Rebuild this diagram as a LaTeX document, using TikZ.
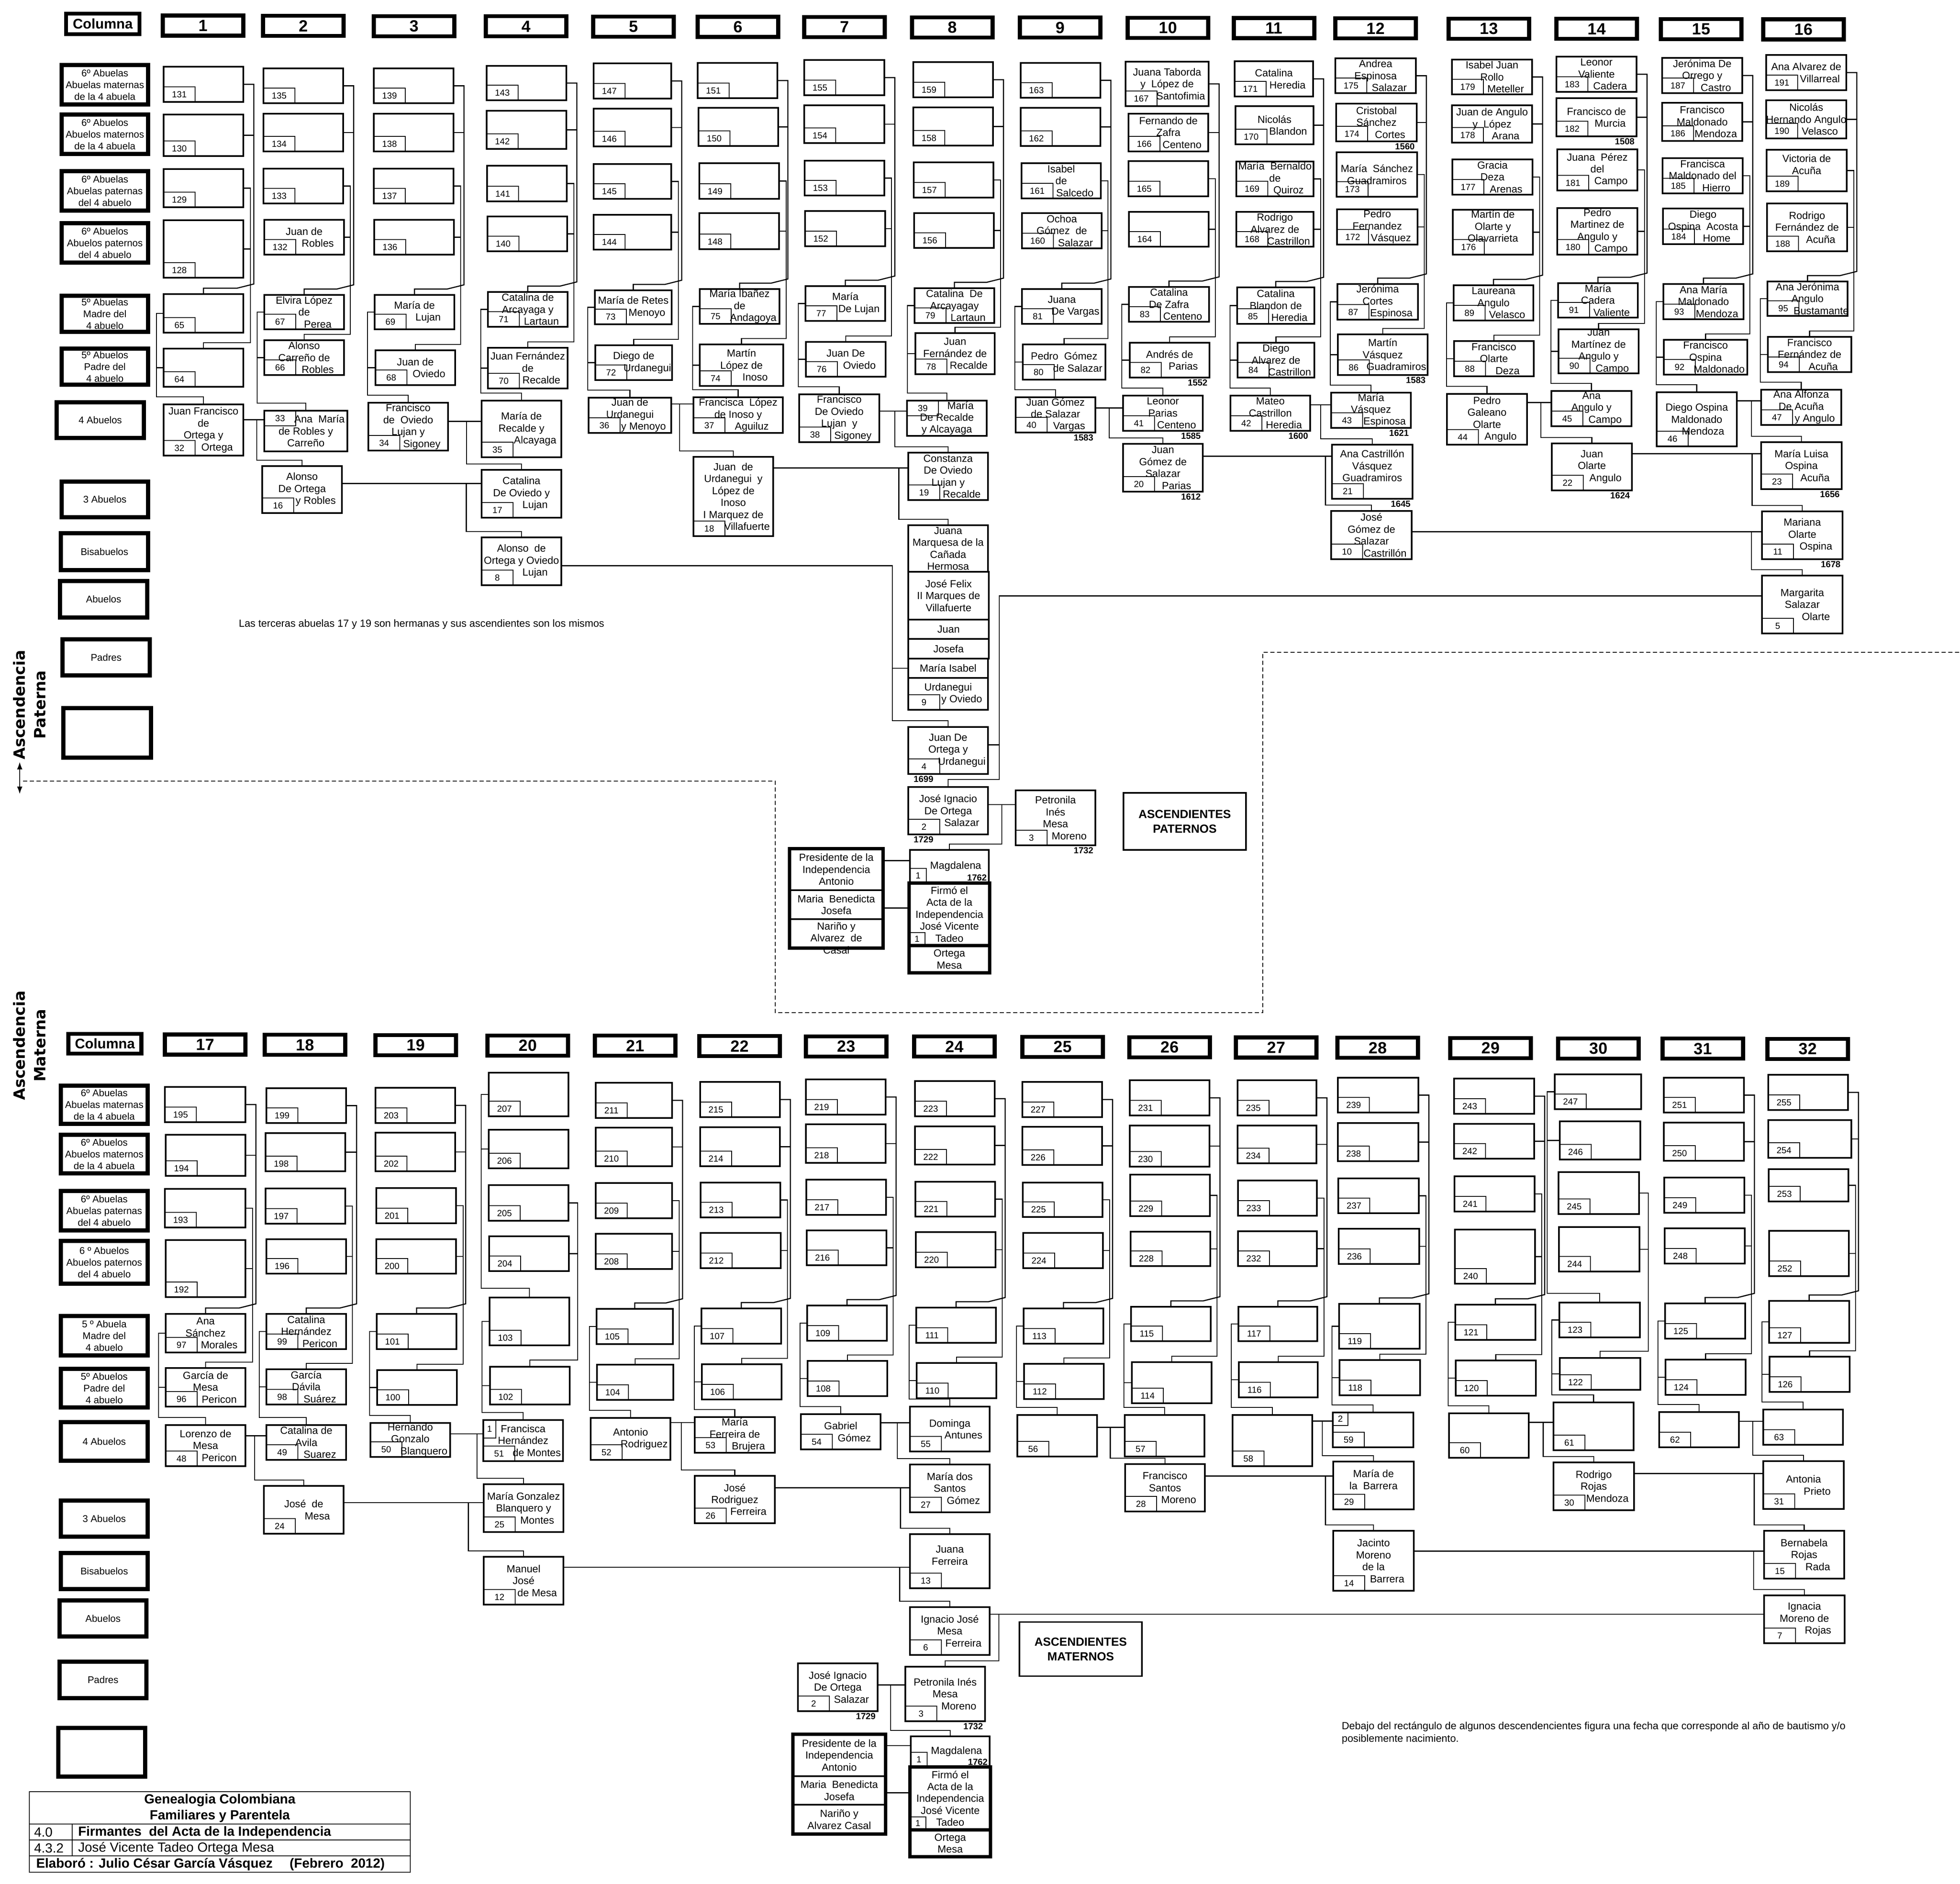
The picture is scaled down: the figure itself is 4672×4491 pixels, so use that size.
\documentclass[tikz,border=0pt]{standalone}
\usepackage{fontspec}
\setmainfont{Liberation Sans}
\newfontfamily\heavyfont{DejaVu Sans}
\usetikzlibrary{arrows.meta,
                calc,
                positioning}

% a box drawn from its corners, with its text laid over it
\newcommand\cell[7][pbox]{%
  \node[#1, minimum width={(#5-#3)*0.1mm}, minimum height={(#6-#4)*0.1mm}] (#2) at ({(#3+#5)/2},{(#4+#6)/2}) {};
  \node[ptext] (#2-t) at (#2) {#7};}
% a person: box plus its number in the lower left corner
\newcommand\pers[6]{%
  \cell{p#1}{#2}{#3}{#4}{#5}{#6}%
  \node[numbox] (p#1-n) at (p#1.south west) {#1};}
\newcommand\rowlbl[6]{%
  \node[lbl, minimum width={(#4-#2)*0.1mm}, minimum height={(#5-#3)*0.1mm}] (#1) at ({(#2+#4)/2},{(#3+#5)/2}) {#6};}
\newcommand\colhdr[3]{%
  \node[hdr, minimum width=19.2mm, minimum height=4.8mm] (h#1) at ({#2+96},{#3+24}) {#1};}
\newcommand\ns{\hspace*{6.5mm}}
\newcommand\yrR[2]{\node[yr, anchor=north east] (y#1) at (p#1.south east) {#2};}
\newcommand\yrL[2]{\node[yr, anchor=north west] (y#1) at ($(p#1.south west)+(8,0)$) {#2};}
% father + mother -> child
\newcommand\couple[5]{%
  \coordinate (ca) at ($(p#1.north east)!#5!(p#1.south east)$);
  \coordinate (cb) at (ca -| p#2.west);
  \draw (ca) -- (cb);
  \draw ($(ca)!#4!(cb)$) |- ($(p#3.north)+(0,-14)$) -- (p#3.north);}
% brackets inside one column: rows 1-4 -> rows 5-6 -> row 7
\newcommand\wirecol[7]{%
  \coordinate (v1) at ($(p#1.east)+(25,0)$);
  \coordinate (v2) at ($(p#3.east)+(17,0)$);
  \coordinate (vl) at ($(p#5.west)+(-17,0)$);
  \draw (p#1.east) -- (v1) -- ($(v1 |- p#5.north)+(0,-24)$) -- ($(v1 |- p#5.north)+(-40,-14)$) -| (p#5.north);
  \draw (p#2.east) -- (p#2.east -| v1);
  \draw (p#3.east) -- (v2) |- ($(p#6.north)+(0,-14)$) -- (p#6.north);
  \draw (p#4.east) -- (p#4.east -| v2);
  \draw (p#5.west) -- (vl) |- ($(p#7.north)+(0,-18)$) -- (p#7.north);
  \draw (p#6.west) -- (p#6.west -| vl);}
\newcommand\wirecolL[7]{%
  \coordinate (v1) at ($(p#1.west)+(-18,0)$);
  \coordinate (v2) at ($(p#3.east)+(22,0)$);
  \coordinate (vl) at ($(p#5.west)+(-18,0)$);
  \draw (p#1.west) -- (v1) |- ($(p#5.north)+(0,-22)$) -- (p#5.north);
  \draw (p#2.west) -- (p#2.west -| v1);
  \draw (p#3.east) -- (v2) |- ($(p#6.north)+(0,-16)$) -- (p#6.north);
  \draw (p#4.east) -- (p#4.east -| v2);
  \draw (p#5.west) -- (vl) |- ($(p#7.north)+(0,-18)$) -- (p#7.north);
  \draw (p#6.west) -- (p#6.west -| vl);}

\begin{document}
\begin{tikzpicture}[x=0.1mm, y=-0.1mm, line width=0.75pt,
    pbox/.style   = {draw, line width=0.9pt, inner sep=0pt, outer sep=0pt},
  fatbox/.style   = {draw, line width=2.4pt, inner sep=0pt, outer sep=0pt},
     lbl/.style   = {draw, line width=2.6pt, inner sep=0pt, align=center,
                     font=\fontsize{6.6}{8}\selectfont},
   ptext/.style   = {inner sep=0pt, align=center, font=\fontsize{7}{8.1}\selectfont},
  numbox/.style   = {draw, line width=0.4pt, anchor=south west, inner sep=0pt, outer sep=0pt,
                     minimum width=7.5mm, minimum height=3.6mm, font=\fontsize{6}{7}\selectfont},
      yr/.style   = {inner sep=1pt, font=\fontsize{6}{7}\selectfont\bfseries},
     hdr/.style   = {draw, line width=2.6pt, inner sep=0pt, font=\fontsize{11}{13}\selectfont\bfseries},
    note/.style   = {inner sep=0pt, font=\fontsize{7}{8.5}\selectfont},
    dashline/.style = {line width=0.6pt, dash pattern=on 1mm off 0.6mm},
     ttl/.style   = {inner sep=0pt, font=\fontsize{9}{11}\selectfont\bfseries},
     trg/.style   = {inner sep=0pt, font=\fontsize{9}{11}\selectfont},
    vert/.style   = {rotate=90, align=center, font=\heavyfont\bfseries\fontsize{10.5}{14}\selectfont}
                    ]
\path[fill=white] (0,0) rectangle (4672,4491);
\useasboundingbox (0,0) rectangle (4672,4491);

% ================= upper half: ascendencia paterna =================
\node[hdr, minimum width=17.5mm, minimum height=4.9mm, font=\fontsize{9.5}{11}\selectfont\bfseries] (colP) at (245,57) {Columna};
\foreach \c/\x in {1/388,2/627,3/891,4/1158,5/1414,6/1663,7/1917,8/2174,9/2431,10/2688,11/2941,12/3183,13/3453,14/3710,15/3959,16/4203}
  \colhdr{\c}{\x}{37+0.6*(\c-1)};
% row labels
\rowlbl{lp1}{147}{155}{353}{249}{6º Abuelas\\Abuelas maternas\\de la 4 abuela}
\rowlbl{lp2}{147}{273}{353}{367}{6º Abuelos\\Abuelos maternos\\de la 4 abuela}
\rowlbl{lp3}{147}{408}{353}{502}{6º Abuelas\\Abuelas paternas\\del 4 abuelo}
\rowlbl{lp4}{147}{532}{353}{626}{6º Abuelos\\Abuelos paternos\\del 4 abuelo}
\rowlbl{lp5}{147}{705}{353}{791}{5º Abuelas\\Madre del\\4 abuelo}
\rowlbl{lp6}{147}{831}{353}{917}{5º Abuelos\\Padre del\\4 abuelo}
\rowlbl{lp7}{135}{959}{343}{1044}{4 Abuelos}
\rowlbl{lp8}{147}{1148}{353}{1233}{3 Abuelos}
\rowlbl{lp9}{145}{1271}{353}{1359}{Bisabuelos}
\rowlbl{lp10}{143}{1385}{351}{1472}{Abuelos}
\rowlbl{lp11}{149}{1524}{357}{1610}{Padres}
\rowlbl{lp12}{151}{1688}{360}{1806}{}

% column 1
\pers{131}{390}{159}{580}{243}{}
\pers{130}{390}{273}{580}{372}{}
\pers{129}{390}{403}{580}{494}{}
\pers{128}{390}{525}{580}{662}{}
\pers{65}{390}{701}{580}{793}{}
\pers{64}{390}{831}{580}{922}{}
\pers{32}{390}{964}{580}{1086}{Juan Francisco\\de\\Ortega y\\\ns Ortega}
% column 2
\pers{135}{628}{163}{818}{246}{}
\pers{134}{628}{271}{818}{361}{}
\pers{133}{628}{402}{818}{485}{}
\pers{132}{630}{524}{820}{607}{Juan de\\\ns Robles}
\pers{67}{630}{703}{820}{785}{Elvira López\\de\\\ns Perea}
\pers{66}{630}{811}{820}{894}{Alonso\\Carreño de\\\ns Robles}
\cell{p33}{630}{979}{828}{1076}{\ns Ana\ \ María\\de Robles y\\Carreño}
\node[numbox, anchor=north west] (p33-n) at (p33.north west) {33};
\pers{16}{625}{1111}{815}{1223}{Alonso\\De Ortega\\\ns y Robles}
% column 3
\pers{139}{891}{163}{1081}{246}{}
\pers{138}{891}{271}{1081}{361}{}
\pers{137}{891}{402}{1081}{485}{}
\pers{136}{892}{524}{1082}{607}{}
\pers{69}{893}{703}{1083}{785}{María de\\\ns Lujan}
\pers{68}{895}{835}{1085}{918}{Juan de\\\ns Oviedo}
\pers{34}{878}{960}{1068}{1074}{Francisco\\de\ \ Oviedo\\Lujan y\\\ns Sigoney}
% column 4
\pers{143}{1160}{157}{1350}{239}{}
\pers{142}{1160}{264}{1350}{355}{}
\pers{141}{1161}{395}{1351}{480}{}
\pers{140}{1162}{516}{1352}{599}{}
\pers{71}{1163}{696}{1353}{779}{Catalina de\\Arcayaga y\\\ns Lartaun}
\pers{70}{1163}{829}{1353}{926}{Juan Fernández\\de\\\ns Recalde}
\pers{35}{1148}{955}{1338}{1090}{María de\\Recalde y\\\ns Alcayaga}
\pers{17}{1148}{1120}{1338}{1234}{Catalina\\De Oviedo y\\\ns Lujan}
\pers{8}{1148}{1281}{1338}{1395}{Alonso\ \ de\\Ortega y Oviedo\\\ns Lujan}
% column 5
\pers{147}{1415}{151}{1600}{235}{}
\pers{146}{1415}{259}{1600}{349}{}
\pers{145}{1415}{391}{1600}{474}{}
\pers{144}{1415}{512}{1600}{595}{}
\pers{73}{1418}{692}{1601}{773}{María de Retes\\\ns Menoyo}
\pers{72}{1419}{823}{1602}{906}{Diego de\\\ns Urdanegui}
\pers{36}{1403}{948}{1600}{1032}{Juan de\\Urdanegui\\\ns y Menoyo}
% column 6
\pers{151}{1663}{150}{1853}{234}{}
\pers{150}{1665}{257}{1855}{348}{}
\pers{149}{1667}{389}{1857}{474}{}
\pers{148}{1667}{508}{1857}{594}{}
\pers{75}{1668}{689}{1858}{772}{María Ibañez\\de\\\ns Andagoya}
\pers{74}{1668}{821}{1867}{920}{Martín\\López de\\\ns Inoso}
\pers{37}{1653}{947}{1866}{1032}{Francisca\ \ López\\de Inoso y\\\ns Aguiluz}
\pers{18}{1653}{1089}{1843}{1278}{Juan\ \ de\\Urdanegui\ \ y\\López de\\Inoso\\I Marquez de\\\ns Villafuerte}
% column 7
\pers{155}{1917}{143}{2108}{227}{}
\pers{154}{1917}{251}{2108}{341}{}
\pers{153}{1918}{383}{2108}{466}{}
\pers{152}{1919}{503}{2110}{587}{}
\pers{77}{1920}{682}{2110}{765}{María\\\ns De Lujan}
\pers{76}{1921}{815}{2111}{898}{Juan De\\\ns Oviedo}
\pers{38}{1905}{940}{2096}{1054}{Francisco\\De Oviedo\\Lujan\ \ y\\\ns Sigoney}
% column 8
\pers{159}{2177}{148}{2367}{232}{}
\pers{158}{2177}{256}{2367}{347}{}
\pers{157}{2178}{387}{2368}{471}{}
\pers{156}{2179}{508}{2369}{591}{}
\pers{79}{2180}{687}{2370}{770}{Catalina\ \ De\\Arcayagay\\\ns Lartaun}
\pers{78}{2182}{794}{2371}{892}{Juan\\Fernández de\\\ns Recalde}
\cell{p39}{2162}{955}{2352}{1039}{\ns María\\De Recalde\\y Alcayaga}
\node[numbox, anchor=north west] (p39-n) at (p39.north west) {39};
\pers{19}{2165}{1079}{2355}{1192}{Constanza\\De Oviedo\\Lujan y\\\ns Recalde}
\cell{p9a}{2165}{1252}{2355}{1363}{Juana\\Marquesa de la\\Cañada\\Hermosa}
\cell{p9b}{2165}{1363}{2357}{1477}{José Felix\\II Marques de\\Villafuerte}
\cell{p9c}{2165}{1477}{2357}{1523}{Juan}
\cell{p9d}{2165}{1523}{2357}{1570}{Josefa}
\cell{p9e}{2165}{1570}{2355}{1616}{María Isabel}
\pers{9}{2165}{1616}{2355}{1692}{Urdanegui\\\ns y Oviedo}
\pers{4}{2165}{1733}{2355}{1845}{Juan De\\Ortega y\\\ns Urdanegui}
\pers{2}{2165}{1876}{2355}{1989}{José Ignacio\\De Ortega\\\ns Salazar}
\pers{3}{2421}{1884}{2611}{2015}{Petronila\\Inés\\Mesa\\\ns Moreno}
\cell{p1}{2169}{2026}{2357}{2105}{\hspace*{3mm}Magdalena}
\node[numbox, minimum width=3.9mm, minimum height=3.5mm] (p1-n) at (p1.south west) {1};
\node[yr, anchor=south east] (y1) at (p1.south east) {1762};
\cell[fatbox]{firm1}{2167}{2105}{2359}{2254}{Firmó el\\Acta de la\\Independencia\\José Vicente\\Tadeo}
\node[numbox, minimum width=3.8mm, minimum height=3.1mm] (firm1-n) at (firm1.south west) {1};
\cell[fatbox]{firm2}{2167}{2254}{2359}{2319}{Ortega\\Mesa}
\cell{pres1}{1882}{2023}{2105}{2122}{Presidente de la\\Independencia\\Antonio}
\cell{pres2}{1882}{2122}{2105}{2191}{Maria\ \ Benedicta\\Josefa}
\cell{pres3}{1882}{2191}{2105}{2260}{}
\node[ptext, anchor=north] (pres3-x) at ($(pres3.north)+(0,6)$) {Nariño y\\Alvarez\ \ de\\Casal};
\cell[fatbox]{pres}{1882}{2023}{2105}{2260}{}
\node[pbox, minimum width=29.2mm, minimum height=13.6mm, align=center,
      font=\fontsize{8}{10}\selectfont\bfseries] (ascpat) at (2824,1958) {ASCENDIENTES\\PATERNOS};
% column 9
\pers{163}{2433}{150}{2623}{233}{}
\pers{162}{2433}{257}{2623}{348}{}
\pers{161}{2435}{389}{2624}{473}{Isabel\\de\\\ns Salcedo}
\pers{160}{2436}{508}{2626}{592}{Ochoa\\Gómez\ \ de\\\ns Salazar}
\pers{81}{2436}{689}{2626}{772}{Juana\\\ns De Vargas}
\pers{80}{2438}{821}{2635}{905}{Pedro\ \ Gómez\\\ns de Salazar}
\pers{40}{2421}{947}{2611}{1031}{Juan Gómez\\de Salazar\\\ns Vargas}
% column 10
\pers{167}{2683}{147}{2881}{253}{Juana Taborda\\y\ \ López de\\\ns Santofimia}
\pers{166}{2690}{271}{2880}{361}{Fernando de\\Zafra\\\ns Centeno}
\pers{165}{2690}{384}{2880}{468}{}
\pers{164}{2691}{505}{2881}{588}{}
\pers{83}{2691}{684}{2882}{767}{Catalina\\De Zafra\\\ns Centeno}
\pers{82}{2693}{817}{2883}{900}{Andrés de\\\ns Parias}
\pers{41}{2677}{943}{2867}{1027}{Leonor\\Parias\\\ns Centeno}
\pers{20}{2677}{1058}{2867}{1172}{Juan\\Gómez de\\Salazar\\\ns Parias}
% column 11
\pers{171}{2943}{146}{3130}{230}{Catalina\\\ns Heredia}
\pers{170}{2945}{253}{3131}{344}{Nicolás\\\ns Blandon}
\pers{169}{2947}{385}{3131}{468}{María\ \ Bernaldo\\de\\\ns Quiroz}
\pers{168}{2947}{505}{3131}{588}{Rodrigo\\Alvarez de\\\ns Castrillon}
\pers{85}{2949}{685}{3133}{772}{Catalina\\Blandon de\\\ns Heredia}
\pers{84}{2950}{817}{3133}{900}{Diego\\Alvarez de\\\ns Castrillon}
\pers{42}{2933}{943}{3123}{1027}{Mateo\\Castrillon\\\ns Heredia}
% column 12
\pers{175}{3183}{139}{3375}{222}{Andrea\\Espinosa\\\ns Salazar}
\pers{174}{3185}{247}{3377}{337}{Cristobal\\Sánchez\\\ns Cortes}
\pers{173}{3186}{363}{3378}{469}{María\ \ Sánchez\\Guadramiros}
\pers{172}{3187}{499}{3379}{583}{Pedro\\Fernandez\\\ns Vásquez}
\pers{87}{3188}{677}{3380}{762}{Jerónima\\Cortes\\\ns Espinosa}
\pers{86}{3189}{797}{3403}{894}{Martín\\Vásquez\\\ns Guadramiros}
\pers{43}{3173}{936}{3363}{1020}{María\\Vásquez\\\ns Espinosa}
\pers{21}{3175}{1060}{3367}{1189}{Ana Castrillón\\Vásquez\\Guadramiros\\~}
\pers{10}{3173}{1218}{3365}{1333}{José\\Gómez de\\Salazar\\\ns Castrillón}
% column 13
\pers{179}{3461}{142}{3652}{225}{Isabel Juan\\Rollo\\\ns Meteller}
\pers{178}{3461}{251}{3652}{340}{Juan de Angulo\\y\ \ López\\\ns Arana}
\pers{177}{3462}{380}{3653}{464}{Gracia\\Deza\\\ns Arenas}
\pers{176}{3463}{500}{3654}{607}{Martín de\\Olarte y\\Olavarrieta\\~}
\pers{89}{3465}{680}{3655}{764}{Laureana\\Angulo\\\ns Velasco}
\pers{88}{3466}{813}{3656}{897}{Francisco\\Olarte\\\ns Deza}
\pers{44}{3449}{939}{3640}{1060}{Pedro\\Galeano\\Olarte\\\ns Angulo}
% column 14
\pers{183}{3710}{135}{3901}{219}{Leonor\\Valiente\\\ns Cadera}
\pers{182}{3710}{234}{3901}{325}{Francisco de\\\ns Murcia}
\pers{181}{3712}{356}{3903}{454}{Juana\ \ Pérez\\del\\\ns Campo}
\pers{180}{3712}{496}{3903}{607}{Pedro\\Martinez de\\Angulo y\\\ns Campo}
\pers{91}{3714}{675}{3904}{757}{María\\Cadera\\\ns Valiente}
\pers{90}{3715}{785}{3906}{890}{Juan\\Martínez de\\Angulo y\\\ns Campo}
\pers{45}{3698}{932}{3889}{1016}{Ana\\Angulo y\\\ns Campo}
\pers{22}{3699}{1057}{3890}{1169}{Juan\\Olarte\\\ns Angulo}
% column 15
\pers{187}{3962}{138}{4153}{222}{Jerónima De\\Orrego y\\\ns Castro}
\pers{186}{3962}{245}{4153}{336}{Francisco\\Maldonado\\\ns Mendoza}
\pers{185}{3963}{377}{4154}{461}{Francisca\\Maldonado del\\\ns Hierro}
\pers{184}{3964}{497}{4155}{582}{Diego\\Ospina\ \ Acosta\\\ns Home}
\pers{93}{3965}{677}{4156}{761}{Ana María\\Maldonado\\\ns Mendoza}
\pers{92}{3966}{810}{4165}{893}{Francisco\\Ospina\\\ns Maldonado}
\pers{46}{3949}{935}{4140}{1064}{Diego Ospina\\Maldonado\\\hspace*{3mm}Mendoza}
% column 16
\pers{191}{4210}{131}{4401}{215}{Ana Alvarez de\\\ns Villarreal}
\pers{190}{4210}{239}{4401}{330}{Nicolás\\Hernando Angulo\\\ns Velasco}
\pers{189}{4211}{357}{4402}{456}{Victoria de\\Acuña\\~}
\pers{188}{4212}{485}{4403}{599}{Rodrigo\\Fernández de\\\ns Acuña}
\pers{95}{4213}{671}{4404}{753}{Ana Jerónima\\Angulo\\\ns Bustamante}
\pers{94}{4214}{803}{4413}{887}{Francisco\\Fernández de\\\ns Acuña}
\pers{47}{4198}{929}{4389}{1013}{Ana Alfonza\\De Acuña\\\ns y Angulo}
\pers{23}{4198}{1054}{4390}{1166}{María Luisa\\Ospina\\\ns Acuña}
\pers{11}{4200}{1219}{4392}{1333}{Mariana\\Olarte\\\ns Ospina}
\pers{5}{4200}{1372}{4392}{1510}{Margarita\\Salazar\\\ns Olarte}
% years
\yrR{40}{1583} \yrR{82}{1552} \yrR{41}{1585} \yrR{20}{1612} \yrR{42}{1600}
\yrR{174}{1560} \yrR{86}{1583} \yrR{43}{1621} \yrR{21}{1645} \yrR{182}{1508}
\yrR{22}{1624} \yrR{23}{1656} \yrR{11}{1678} \yrR{3}{1732}
\yrL{4}{1699} \yrL{2}{1729}

% couples, upper half
\couple{32}{33}{16}{0.64}{0.3}
\couple{34}{35}{17}{0.55}{0.39}
\couple{36}{37}{18}{0.38}{0.18}
\couple{38}{39}{19}{0.56}{0.35}
\couple{40}{41}{20}{0.5}{0.3}
\couple{42}{43}{21}{0.5}{0.26}
\couple{44}{45}{22}{0.57}{0.17}
\couple{46}{47}{23}{0.6}{0.16}
\couple{16}{17}{8}{0.89}{0.37}
\couple{18}{19}{9a}{0.93}{0.14}
\couple{20}{21}{10}{0.95}{0.26}
\couple{22}{23}{11}{0.93}{0.22}
\couple{10}{11}{5}{0.97}{0.43}
\couple{2}{3}{1}{0.5}{0.37}
% 8 + 9 -> 4
\coordinate (j8) at ($(p9e.west)+(-38,0)$);
\draw ($(p8.north east)!0.59!(p8.south east)$) -| (j8) |- ($(p4.north)+(0,-15)$) -- (p4.north);
\draw (p9e.west) -- (j8);
% 4 + 5 -> 2
\coordinate (c4) at ($(p4.north east)!0.38!(p4.south east)$);
\coordinate (j4) at ($(c4)+(27,0)$);
\coordinate (c5) at ($(p5.north west)!0.35!(p5.south west)$);
\draw (c4) -- (j4) |- (c5);
\draw (j4) |- ($(p2.north)+(0,-18)$) -- (p2.north);
% parents of 1
\coordinate (m1) at ($(p1.north west)!0.32!(p1.south west)$);
\draw (m1) -- (m1 -| pres.east);
\coordinate (m2) at ($(firm1.north west)!0.4!(firm1.south west)$);
\draw (m2) -- (m2 -| pres.east);

\node[note, anchor=west] (nota1) at (568,1488) {Las terceras abuelas 17 y 19 son hermanas y sus ascendientes son los mismos};
\node[vert] (ascP) at (70,1680) {Ascendencia\\Paterna};
\coordinate (ar1) at (47,1816);
\coordinate (ar2) at (47,1893);
\draw[{Latex[length=1.8mm,width=1.3mm]}-{Latex[length=1.8mm,width=1.3mm]}] (ar1) -- (ar2);
\draw[dashline] (55,1862) -- (1848,1862) -- (1848,2414) -- (3010,2414) -- (3010,1555) -- (4672,1555);

% ================= lower half: ascendencia materna =================
\node[vert] (ascM) at (70,2492) {Ascendencia\\Materna};
\node[hdr, minimum width=17.4mm, minimum height=4.7mm, font=\fontsize{9.5}{11}\selectfont\bfseries] (colM) at (250,2488) {Columna};
\foreach \c/\x in {17/393,18/631,19/895,20/1162,21/1418,22/1667,23/1921,24/2179,25/2437,26/2692,27/2946,28/3188,29/3457,30/3714,31/3963,32/4213}
  \colhdr{\c}{\x}{2466+0.7*(\c-17)};
\rowlbl{lm1}{145}{2588}{352}{2679}{6º Abuelas\\Abuelas maternas\\de la 4 abuela}
\rowlbl{lm2}{145}{2705}{352}{2797}{6º Abuelos\\Abuelos maternos\\de la 4 abuela}
\rowlbl{lm3}{145}{2839}{352}{2933}{6º Abuelas\\Abuelas paternas\\del 4 abuelo}
\rowlbl{lm4}{145}{2958}{352}{3060}{6 º Abuelos\\Abuelos paternos\\del 4 abuelo}
\rowlbl{lm5}{145}{3137}{352}{3231}{5 º Abuela\\Madre del\\4 abuelo}
\rowlbl{lm6}{145}{3263}{352}{3355}{5º Abuelos\\Padre del\\4 abuelo}
\rowlbl{lm7}{145}{3390}{352}{3482}{4 Abuelos}
\rowlbl{lm8}{145}{3577}{352}{3663}{3 Abuelos}
\rowlbl{lm9}{145}{3702}{352}{3788}{Bisabuelos}
\rowlbl{lm10}{142}{3815}{349}{3901}{Abuelos}
\rowlbl{lm11}{142}{3961}{349}{4048}{Padres}
\rowlbl{lm12}{139}{4119}{346}{4235}{}

% column 17
\pers{195}{393}{2591}{585}{2675}{}
\pers{194}{395}{2705}{585}{2803}{}
\pers{193}{393}{2834}{585}{2926}{}
\pers{192}{395}{2956}{585}{3092}{}
\pers{97}{395}{3132}{585}{3224}{Ana\\Sánchez\\\ns Morales}
\pers{96}{395}{3261}{585}{3353}{García de\\Mesa\\\ns Pericon}
\pers{48}{395}{3397}{585}{3495}{Lorenzo de\\Mesa\\\ns Pericon}
% column 18
\pers{199}{635}{2594}{825}{2677}{}
\pers{198}{633}{2701}{823}{2792}{}
\pers{197}{633}{2833}{823}{2917}{}
\pers{196}{635}{2954}{825}{3036}{}
\pers{99}{635}{3132}{825}{3216}{Catalina\\Hernández\\\ns Pericon}
\pers{98}{635}{3264}{825}{3348}{García\\Dávila\\\ns Suárez}
\pers{49}{635}{3397}{825}{3480}{Catalina de\\Avila\\\ns Suarez}
\pers{24}{629}{3542}{819}{3656}{José\ \ de\\\ns Mesa}
% column 19
\pers{203}{895}{2593}{1085}{2677}{}
\pers{202}{895}{2700}{1085}{2792}{}
\pers{201}{897}{2832}{1087}{2916}{}
\pers{200}{897}{2954}{1087}{3036}{}
\pers{101}{898}{3132}{1088}{3216}{}
\pers{100}{899}{3266}{1089}{3349}{}
\pers{50}{883}{3392}{1073}{3473}{Hernando\\Gonzalo\\\ns Blanquero}
% column 20
\pers{207}{1165}{2557}{1355}{2661}{}
\pers{206}{1165}{2693}{1355}{2785}{}
\pers{205}{1165}{2825}{1355}{2910}{}
\pers{204}{1166}{2947}{1356}{3030}{}
\pers{103}{1167}{3093}{1357}{3207}{}
\pers{102}{1168}{3258}{1358}{3348}{}
\pers{51}{1152}{3385}{1342}{3483}{Francisca\\Hernández\\\ns de Montes}
\node[numbox, anchor=north west, minimum width=3mm, minimum height=4.3mm] (p51-m) at (p51.north west) {1};
\pers{25}{1153}{3538}{1343}{3652}{María Gonzalez\\Blanquero y\\\ns Montes}
\pers{12}{1153}{3711}{1343}{3825}{Manuel\\José\\\ns de Mesa}
% column 21
\pers{211}{1420}{2581}{1602}{2665}{}
\pers{210}{1420}{2688}{1602}{2780}{}
\pers{209}{1420}{2820}{1602}{2904}{}
\pers{208}{1420}{2941}{1602}{3025}{}
\pers{105}{1422}{3120}{1604}{3204}{}
\pers{104}{1423}{3253}{1605}{3337}{}
\pers{52}{1408}{3380}{1598}{3480}{Antonio\\\ns Rodriguez}
% column 22
\pers{215}{1669}{2579}{1859}{2663}{}
\pers{214}{1669}{2687}{1859}{2780}{}
\pers{213}{1670}{2819}{1860}{2902}{}
\pers{212}{1670}{2939}{1861}{3023}{}
\pers{107}{1672}{3119}{1862}{3203}{}
\pers{106}{1673}{3252}{1863}{3336}{}
\pers{53}{1656}{3378}{1847}{3463}{María\\Ferreira de\\\ns Brujera}
\pers{26}{1656}{3518}{1847}{3631}{José\\Rodriguez\\\ns Ferreira}
% column 23
\pers{219}{1921}{2573}{2111}{2657}{}
\pers{218}{1921}{2680}{2111}{2772}{}
\pers{217}{1922}{2812}{2112}{2896}{}
\pers{216}{1923}{2933}{2113}{3016}{}
\pers{109}{1924}{3112}{2114}{3196}{}
\pers{108}{1925}{3244}{2115}{3328}{}
\pers{54}{1909}{3371}{2099}{3455}{Gabriel\\\ns Gómez}
% column 24
\pers{223}{2181}{2577}{2371}{2661}{}
\pers{222}{2181}{2685}{2371}{2776}{}
\pers{221}{2182}{2817}{2372}{2900}{}
\pers{220}{2183}{2937}{2373}{3021}{}
\pers{111}{2184}{3117}{2374}{3201}{}
\pers{110}{2185}{3249}{2375}{3333}{}
\pers{55}{2169}{3353}{2359}{3460}{Dominga\\\ns Antunes}
\pers{27}{2169}{3491}{2359}{3605}{María dos\\Santos\\\ns Gómez}
\pers{13}{2169}{3657}{2359}{3786}{Juana\\Ferreira\\~}
\pers{6}{2169}{3831}{2359}{3945}{Ignacio José\\Mesa\\\ns Ferreira}
\cell{p3m}{2158}{3973}{2348}{4103}{Petronila Inés\\Mesa\\\ns Moreno}
\node[numbox] (p3m-n) at (p3m.south west) {3};
\cell{p2m}{1902}{3965}{2092}{4079}{José Ignacio\\De Ortega\\\ns Salazar}
\node[numbox] (p2m-n) at (p2m.south west) {2};
\cell{p1m}{2171}{4139}{2359}{4212}{\hspace*{3mm}Magdalena}
\node[numbox, minimum width=3.9mm, minimum height=3.5mm] (p1m-n) at (p1m.south west) {1};
\node[yr, anchor=south east] (y1m) at (p1m.south east) {1762};
\cell[fatbox]{firm1m}{2169}{4212}{2361}{4362}{Firmó el\\Acta de la\\Independencia\\José Vicente\\Tadeo}
\node[numbox, minimum width=3.8mm, minimum height=3.1mm] (firm1m-n) at (firm1m.south west) {1};
\cell[fatbox]{firm2m}{2169}{4362}{2361}{4426}{Ortega\\Mesa}
\cell{pres1m}{1890}{4134}{2111}{4234}{Presidente de la\\Independencia\\Antonio}
\cell{pres2m}{1890}{4234}{2111}{4302}{Maria\ \ Benedicta\\Josefa}
\cell{pres3m}{1890}{4302}{2111}{4372}{Nariño y\\Alvarez Casal}
\cell[fatbox]{presm}{1890}{4134}{2111}{4372}{}
\node[pbox, minimum width=29.2mm, minimum height=12.9mm, align=center,
      font=\fontsize{8}{10}\selectfont\bfseries] (ascmat) at (2576,3931) {ASCENDIENTES\\MATERNOS};
% column 25
\pers{227}{2437}{2579}{2627}{2663}{}
\pers{226}{2437}{2686}{2627}{2777}{}
\pers{225}{2438}{2819}{2628}{2901}{}
\pers{224}{2439}{2939}{2629}{3023}{}
\pers{113}{2440}{3119}{2630}{3203}{}
\pers{112}{2441}{3251}{2631}{3335}{}
\pers{56}{2425}{3373}{2615}{3472}{}
% column 26
\pers{231}{2693}{2575}{2883}{2659}{}
\pers{230}{2693}{2683}{2883}{2781}{}
\pers{229}{2694}{2800}{2884}{2899}{}
\pers{228}{2695}{2936}{2885}{3018}{}
\pers{115}{2696}{3115}{2886}{3197}{}
\pers{114}{2698}{3247}{2888}{3345}{}
\pers{57}{2681}{3373}{2871}{3472}{}
\pers{28}{2682}{3490}{2872}{3603}{Francisco\\Santos\\\ns Moreno}
% column 27
\pers{235}{2950}{2575}{3138}{2659}{}
\pers{234}{2950}{2683}{3138}{2773}{}
\pers{233}{2951}{2814}{3139}{2898}{}
\pers{232}{2951}{2935}{3139}{3018}{}
\pers{117}{2952}{3115}{3140}{3197}{}
\pers{116}{2953}{3247}{3141}{3331}{}
\pers{58}{2938}{3373}{3128}{3495}{}
% column 28
\pers{239}{3189}{2569}{3381}{2652}{}
\pers{238}{3189}{2677}{3381}{2768}{}
\pers{237}{3190}{2809}{3382}{2892}{}
\pers{236}{3191}{2929}{3383}{3013}{}
\pers{119}{3192}{3108}{3384}{3215}{}
\pers{118}{3193}{3242}{3385}{3326}{}
\pers{59}{3177}{3367}{3369}{3450}{}
\node[numbox, anchor=north west, minimum width=3.6mm, minimum height=3.1mm] (p59-m) at (p59.north west) {2};
\pers{29}{3178}{3484}{3370}{3598}{María de\\la\ \ Barrera\\~}
\pers{14}{3178}{3649}{3370}{3792}{Jacinto\\Moreno\\de la\\\ns Barrera}
% column 29
\pers{243}{3466}{2571}{3657}{2655}{}
\pers{242}{3466}{2679}{3657}{2762}{}
\pers{241}{3467}{2804}{3658}{2888}{}
\pers{240}{3468}{2931}{3659}{3060}{}
\pers{121}{3469}{3110}{3660}{3194}{}
\pers{120}{3470}{3243}{3661}{3327}{}
\pers{60}{3454}{3369}{3644}{3475}{}
% column 30
\pers{247}{3706}{2561}{3912}{2644}{}
\pers{246}{3718}{2673}{3910}{2764}{}
\pers{245}{3715}{2794}{3907}{2894}{}
\pers{244}{3716}{2925}{3908}{3031}{}
\pers{123}{3717}{3105}{3909}{3188}{}
\pers{122}{3718}{3237}{3910}{3313}{}
\pers{61}{3703}{3343}{3894}{3457}{}
\pers{30}{3703}{3486}{3895}{3600}{Rodrigo\\Rojas\\\ns Mendoza}
% column 31
\pers{251}{3966}{2569}{4157}{2652}{}
\pers{250}{3966}{2676}{4157}{2767}{}
\pers{249}{3967}{2807}{4158}{2891}{}
\pers{248}{3968}{2928}{4159}{3012}{}
\pers{125}{3969}{3107}{4160}{3191}{}
\pers{124}{3970}{3241}{4161}{3325}{}
\pers{62}{3955}{3366}{4145}{3450}{}
% column 32
\pers{255}{4215}{2562}{4405}{2646}{}
\pers{254}{4215}{2670}{4413}{2760}{}
\pers{253}{4216}{2787}{4406}{2864}{}
\pers{252}{4217}{2934}{4407}{3042}{}
\pers{127}{4217}{3101}{4408}{3201}{}
\pers{126}{4218}{3234}{4409}{3318}{}
\pers{63}{4203}{3360}{4393}{3444}{}
\pers{31}{4203}{3483}{4395}{3597}{Antonia\\\ns Prieto}
\pers{15}{4205}{3649}{4396}{3763}{Bernabela\\Rojas\\\ns Rada}
\pers{7}{4205}{3803}{4397}{3917}{Ignacia\\Moreno de\\\ns Rojas}
\yrR{2m}{1729} \yrR{3m}{1732}

% couples, lower half
\couple{48}{49}{24}{0.44}{0.26}
\couple{50}{51}{25}{0.81}{0.32}
\couple{52}{53}{26}{0.45}{0.11}
\couple{54}{55}{27}{0.57}{0.24}
\couple{56}{57}{28}{0.48}{0.3}
\couple{58}{59}{29}{0.49}{0.12}
\couple{60}{61}{30}{0.58}{0.2}
\couple{62}{63}{31}{0.57}{0.26}
\couple{24}{25}{12}{0.89}{0.35}
\couple{26}{27}{13}{0.93}{0.25}
\couple{28}{29}{14}{0.94}{0.25}
\couple{30}{31}{15}{0.93}{0.23}
\couple{12}{13}{6}{0.97}{0.22}
\couple{14}{15}{7}{0.97}{0.34}
\couple{6}{7}{3m}{0.012}{0.15}
\couple{2m}{3m}{1m}{0.47}{0.45}
\coordinate (m1m) at ($(p1m.north west)!0.3!(p1m.south west)$);
\draw (m1m) -- (m1m -| presm.east);
\coordinate (m2m) at ($(firm1m.north west)!0.41!(firm1m.south west)$);
\draw (m2m) -- (m2m -| presm.east);

% brackets inside every column
\foreach \c in {1,...,32}{%
  \ifnum\c=20 \else\ifnum\c=30 \else
    \pgfmathtruncatemacro\nA{127+4*\c}%
    \pgfmathtruncatemacro\nB{126+4*\c}%
    \pgfmathtruncatemacro\nC{125+4*\c}%
    \pgfmathtruncatemacro\nD{124+4*\c}%
    \pgfmathtruncatemacro\nE{63+2*\c}%
    \pgfmathtruncatemacro\nF{62+2*\c}%
    \pgfmathtruncatemacro\nG{31+\c}%
    \wirecol{\nA}{\nB}{\nC}{\nD}{\nE}{\nF}{\nG}%
  \fi\fi}
\wirecolL{207}{206}{205}{204}{103}{102}{51}
\wirecolL{247}{246}{245}{244}{123}{122}{61}

\node[note, anchor=north west, align=left] (nota2) at (3197,4103) {Debajo del rectángulo de algunos descendencientes figura una fecha que corresponde al año de bautismo y/o\\posiblemente nacimiento.};

% title block
\draw[line width=0.8pt] (70,4271) rectangle (978,4463);
\draw[line width=0.8pt] (70,4348) -- (978,4348) (70,4386) -- (978,4386) (70,4424) -- (978,4424) (172,4348) -- (172,4424);
\node[ttl] (tit1) at (524,4291) {Genealogia Colombiana};
\node[ttl] (tit2) at (524,4329) {Familiares y Parentela};
\node[trg, anchor=west] (tit3) at (80,4368) {4.0};
\node[ttl, anchor=west] (tit4) at (185,4368) {Firmantes\ \ del Acta de la Independencia};
\node[trg, anchor=west] (tit5) at (80,4406) {4.3.2};
\node[trg, anchor=west] (tit6) at (185,4406) {José Vicente Tadeo Ortega Mesa};
\node[ttl, anchor=west] (tit7) at (85,4444) {Elaboró : Julio César García Vásquez\quad\ (Febrero\ \ 2012)};
\end{tikzpicture}
\end{document}
